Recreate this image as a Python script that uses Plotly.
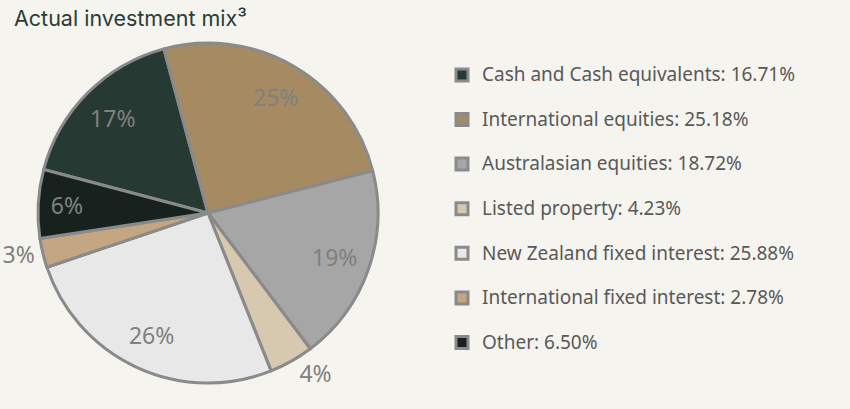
import plotly.graph_objects as go

# investment mix, in legend order
labels = [
    "Cash and Cash equivalents",
    "International equities",
    "Australasian equities",
    "Listed property",
    "New Zealand fixed interest",
    "International fixed interest",
    "Other",
]
values = [16.71, 25.18, 18.72, 4.23, 25.88, 2.78, 6.50]
colors = ["#263a33", "#a68b62", "#a6a6a6", "#d7c8b0", "#e8e8e8", "#c4a782", "#17221e"]

slice_text = [f"{v:.0f}%" for v in values]
text_pos = ["inside", "inside", "inside", "outside", "inside", "outside", "inside"]

# legend font size sets the row spacing, the span sets the visible text size
legend_names = [
    f'<span style="font-size:19px">{l}: {v:.2f}%</span><br> '
    for l, v in zip(labels, values)
]

dom = dict(x=[38 / 850, 378 / 850], y=[26 / 409, 366 / 409])

fig = go.Figure()

# coloured slices
fig.add_trace(go.Pie(
    labels=legend_names,
    values=values,
    textinfo="none",
    marker=dict(colors=colors, line=dict(color="#8a8a8a", width=3)),
    sort=False,
    direction="clockwise",
    rotation=-75.2,
    hoverinfo="skip",
    domain=dom,
))

# transparent ring on top, only to push the percent labels outwards
fig.add_trace(go.Pie(
    labels=legend_names,
    values=values,
    hole=0.58,
    text=slice_text,
    textinfo="text",
    textposition=text_pos,
    insidetextorientation="horizontal",
    textfont=dict(family="Noto Sans", size=23, color="#808080"),
    marker=dict(colors=["rgba(0,0,0,0)"] * len(values), line=dict(width=0)),
    sort=False,
    direction="clockwise",
    rotation=-75.2,
    hoverinfo="skip",
    showlegend=False,
    automargin=False,
    domain=dom,
))

fig.update_layout(
    width=850,
    height=409,
    margin=dict(l=0, r=0, t=0, b=0, autoexpand=False),
    paper_bgcolor="#f5f4ef",
    plot_bgcolor="#f5f4ef",
    showlegend=True,
    legend=dict(
        x=442 / 850,
        y=1 - 58 / 409,
        xanchor="left",
        yanchor="top",
        valign="top",
        font=dict(family="Noto Sans", size=16, color="#595959"),
        bgcolor="rgba(0,0,0,0)",
    ),
    annotations=[dict(
        text="Actual investment mix³",
        x=12 / 850, y=1 - 3 / 409,
        xref="paper", yref="paper",
        xanchor="left", yanchor="top",
        showarrow=False,
        font=dict(family="Inter", size=21.5, color="#2a3d35"),
    )],
)

fig.write_html(
    "out.html",
    config={"displayModeBar": False},
    post_script="document.body.style.margin='0';document.body.style.background='#f5f4ef';",
)
